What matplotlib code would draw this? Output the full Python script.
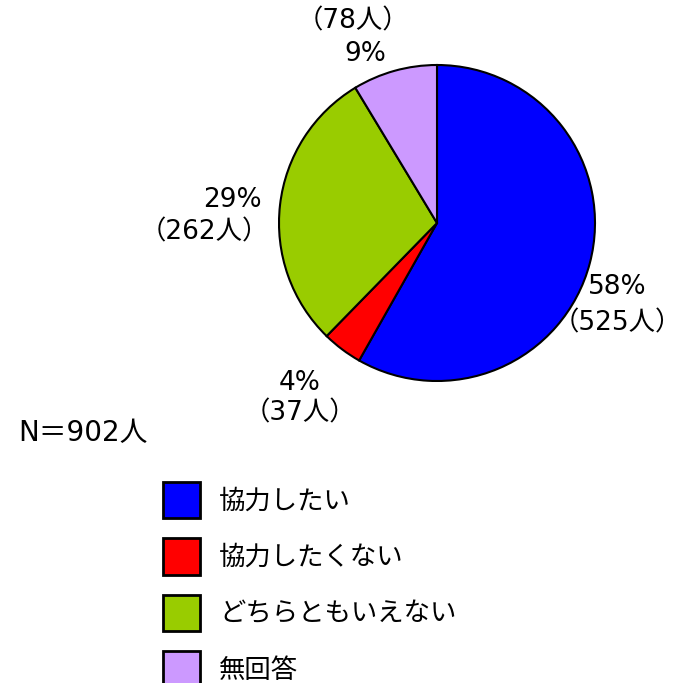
import matplotlib.pyplot as plt

plt.rcParams['font.family'] = ['DejaVu Sans', 'Noto Sans CJK JP']

# data
categories = ['協力したい', '協力したくない', 'どちらともいえない', '無回答']
counts = [525, 37, 262, 78]
percents = ['58%', '4%', '29%', '9%']
colors = ['#0000FF', '#FF0000', '#99CC00', '#CC99FF']
total = 902

W = H = 683
fig = plt.figure(figsize=(6.83, 6.83), dpi=100)

# pie axes, centre (437, 223) px, radius 158 px
cx, cy, r = 437, 223, 158
ax = fig.add_axes([(cx - r) / W, (H - cy - r) / H, 2 * r / W, 2 * r / H])
wedges, _ = ax.pie(counts, colors=colors, startangle=90, counterclock=False,
                   wedgeprops=dict(edgecolor='black', linewidth=1.5))
ax.set_xlim(-1, 1)
ax.set_ylim(-1, 1)
ax.axis('off')

fs = 19
kw = dict(fontsize=fs, va='center')

# 58%
ax.text(1.553, -0.52, f'{percents[0]}\n（{counts[0]}人）', ha='right',
        multialignment='center', linespacing=1.5, **kw)
# 4%
ax.text(-0.87, -1.11, f'{percents[1]}\n（{counts[1]}人）', ha='center',
        linespacing=1.25, **kw)
# 29%
ax.text(-1.108, 0.145, percents[2], ha='right', **kw)
ax.text(-1.06, -0.06, f'（{counts[2]}人）', ha='right', **kw)
# 9%
ax.text(-0.53, 1.275, f'（{counts[3]}人）', ha='center', **kw)
ax.text(-0.455, 1.07, percents[3], ha='center', **kw)

fig.text(18 / W, 1 - 433 / H, f'N＝{total}人', ha='left', fontsize=20, va='center')

handles = [plt.Rectangle((0, 0), 1, 1, facecolor=c, edgecolor='black', linewidth=2)
           for c in colors]
fig.legend(handles, categories, loc='upper left', bbox_to_anchor=(163 / W, 1 - 482 / H),
           frameon=False, fontsize=fs, handlelength=1.42, handleheight=1.75,
           handletextpad=0.7, labelspacing=0.75, borderpad=0, borderaxespad=0)

fig.savefig('out.png', dpi=100, facecolor='white')
